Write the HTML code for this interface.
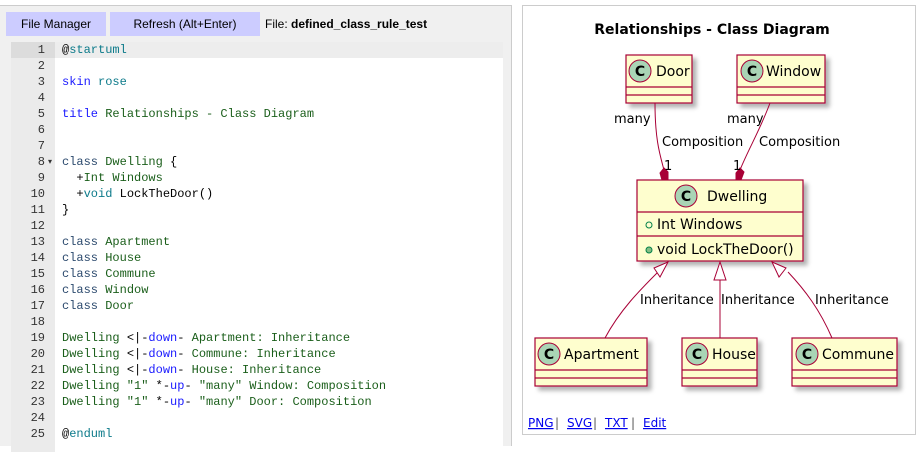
<!DOCTYPE html>
<html><head><meta charset="utf-8"><style>
body{margin:0;width:919px;height:445px;background:#fff;position:relative;overflow:hidden;font-family:"Liberation Sans",sans-serif}
#left{position:absolute;left:0;top:5px;width:511px;height:440px;background:#f0f0f0;border-top:1px solid #ccc;border-right:1px solid #ccc}
.btn{position:absolute;top:6px;height:24px;background:#ccccff;font-size:12px;line-height:24px;text-align:center;color:#000}
#file{position:absolute;left:265px;top:6px;line-height:24px;font-size:12px}
#ed{position:absolute;left:11px;top:36px;width:492px;height:410px;background:#fff}
#gut{position:absolute;left:0;top:0;width:44px;height:410px;background:#ebebeb}
.ln{position:absolute;left:0;width:34px;text-align:right;font:12px "Liberation Mono",monospace;color:#333}
.cd{position:absolute;left:51px;font:12px "Liberation Mono",monospace;white-space:pre;color:#1a5e1a}
.k{color:#1a1aff}.c{color:#2c4a6e}.t{color:#0c7a8a}.g{color:#1a5e1a}.p{color:#000}
#hl{position:absolute;left:44px;top:0;width:448px;height:16px;background:#ededed}
</style></head><body>
<div id="left">
<div class="btn" style="left:6px;width:100px">File Manager</div>
<div class="btn" style="left:110px;width:150px">Refresh (Alt+Enter)</div>
<div id="file">File: <b>defined_class_rule_test</b></div>
<div id="ed"><div id="gut"><div style="position:absolute;left:0;top:0;width:44px;height:16px;background:#dcdcdc"></div></div><div id="hl"></div>
<div class="ln" style="top:1px">1</div><div class="ln" style="top:17px">2</div><div class="ln" style="top:33px">3</div><div class="ln" style="top:49px">4</div><div class="ln" style="top:65px">5</div><div class="ln" style="top:81px">6</div><div class="ln" style="top:97px">7</div><div class="ln" style="top:113px">8<span style="font-size:8px;position:absolute;left:37px;top:2px">▾</span></div><div class="ln" style="top:129px">9</div><div class="ln" style="top:145px">10</div><div class="ln" style="top:161px">11</div><div class="ln" style="top:177px">12</div><div class="ln" style="top:193px">13</div><div class="ln" style="top:209px">14</div><div class="ln" style="top:225px">15</div><div class="ln" style="top:241px">16</div><div class="ln" style="top:257px">17</div><div class="ln" style="top:273px">18</div><div class="ln" style="top:289px">19</div><div class="ln" style="top:305px">20</div><div class="ln" style="top:321px">21</div><div class="ln" style="top:337px">22</div><div class="ln" style="top:353px">23</div><div class="ln" style="top:369px">24</div><div class="ln" style="top:385px">25</div>
<div class="cd" style="top:1px"><span class="p">@</span><span class="t">startuml</span></div>
<div class="cd" style="top:33px"><span class="k">skin</span> <span class="t">rose</span></div>
<div class="cd" style="top:65px"><span class="k">title</span> Relationships - Class Diagram</div>
<div class="cd" style="top:113px"><span class="c">class</span> Dwelling <span class="p">{</span></div>
<div class="cd" style="top:129px">  <span class="p">+</span>Int Windows</div>
<div class="cd" style="top:145px">  <span class="p">+</span><span class="t">void</span> <span class="p">LockTheDoor()</span></div>
<div class="cd" style="top:161px"><span class="p">}</span></div>
<div class="cd" style="top:193px"><span class="c">class</span> Apartment</div>
<div class="cd" style="top:209px"><span class="c">class</span> House</div>
<div class="cd" style="top:225px"><span class="c">class</span> Commune</div>
<div class="cd" style="top:241px"><span class="c">class</span> Window</div>
<div class="cd" style="top:257px"><span class="c">class</span> Door</div>
<div class="cd" style="top:289px">Dwelling <span class="p">&lt;|-</span><span class="k">down</span><span class="p">-</span> Apartment: Inheritance</div>
<div class="cd" style="top:305px">Dwelling <span class="p">&lt;|-</span><span class="k">down</span><span class="p">-</span> Commune: Inheritance</div>
<div class="cd" style="top:321px">Dwelling <span class="p">&lt;|-</span><span class="k">down</span><span class="p">-</span> House: Inheritance</div>
<div class="cd" style="top:337px">Dwelling "1" <span class="p">*-</span><span class="k">up</span><span class="p">-</span> "many" Window: Composition</div>
<div class="cd" style="top:353px">Dwelling "1" <span class="p">*-</span><span class="k">up</span><span class="p">-</span> "many" Door: Composition</div>
<div class="cd" style="top:385px"><span class="p">@</span><span class="t">enduml</span></div>
</div></div>
<svg width="919" height="445" style="position:absolute;left:0;top:0" font-family="'DejaVu Sans',sans-serif">
<defs><filter id="sh" x="-20%" y="-20%" width="150%" height="150%"><feDropShadow dx="4" dy="4" stdDeviation="2" flood-color="#000" flood-opacity="0.3"/></filter>
<g id="ci"><circle r="11" fill="#a9d4b5" stroke="#a80036"/><text y="5" text-anchor="middle" font-size="14" font-weight="bold" fill="#000">C</text></g></defs>
<rect x="522.5" y="5.5" width="393" height="170" fill="none"/>
<rect x="522.5" y="5.5" width="393" height="429" fill="#fff" stroke="#ccc"/>
<text x="712" y="34" text-anchor="middle" font-size="14" font-weight="bold">Relationships - Class Diagram</text>
<g stroke="#a80036" fill="#fefece" stroke-width="1.2">
<rect x="626" y="55" width="66" height="48" filter="url(#sh)"/><line x1="626" y1="87" x2="692" y2="87"/><line x1="626" y1="95" x2="692" y2="95"/>
<rect x="737" y="55" width="88" height="48" filter="url(#sh)"/><line x1="737" y1="87" x2="825" y2="87"/><line x1="737" y1="95" x2="825" y2="95"/>
<rect x="637" y="180" width="166" height="81" filter="url(#sh)"/><line x1="637" y1="212" x2="803" y2="212"/><line x1="637" y1="236" x2="803" y2="236"/>
<rect x="535" y="338" width="112" height="48" filter="url(#sh)"/><line x1="535" y1="370" x2="647" y2="370"/><line x1="535" y1="378" x2="647" y2="378"/>
<rect x="682" y="338" width="75" height="48" filter="url(#sh)"/><line x1="682" y1="370" x2="757" y2="370"/><line x1="682" y1="378" x2="757" y2="378"/>
<rect x="792" y="338" width="105" height="48" filter="url(#sh)"/><line x1="792" y1="370" x2="897" y2="370"/><line x1="792" y1="378" x2="897" y2="378"/>
</g>
<g fill="none" stroke="#a80036" stroke-width="1">
<path d="M655 103 C655 140 660 155 664 170"/><path d="M770 103 C760 130 748 150 740 170"/>
<path d="M664 168 L668 172 L668 180 L662 180 L660 173 Z" fill="#a80036"/>
<path d="M740 168 L744 172 L741 180 L736 180 L736 173 Z" fill="#a80036"/>
<path d="M605 338 C620 310 640 290 658 272"/><path d="M720 338 L720 280"/><path d="M832 338 C820 310 805 290 788 272"/>
<path d="M668 262 L654 268 L660 277 Z" fill="#fff"/><path d="M720 262 L714 280 L726 280 Z" fill="#fff"/><path d="M772 262 L786 268 L779 277 Z" fill="#fff"/>
</g>
<use href="#ci" x="640" y="71"/><use href="#ci" x="752" y="71"/><use href="#ci" x="686" y="196"/><use href="#ci" x="549" y="354"/><use href="#ci" x="697" y="354"/><use href="#ci" x="807" y="354"/>
<g font-size="14" fill="#000"><text x="656" y="76">Door</text><text x="766" y="76">Window</text><text x="707" y="201">Dwelling</text>
<text x="564" y="359">Apartment</text><text x="712" y="359">House</text><text x="822" y="359">Commune</text>
<text x="657" y="229">Int Windows</text><text x="657" y="254">void LockTheDoor()</text></g>
<circle cx="649" cy="225" r="3" fill="none" stroke="#038048"/><circle cx="649" cy="250" r="3" fill="#84be84" stroke="#038048"/>
<g font-size="13" fill="#000"><text x="614" y="123">many</text><text x="727" y="123">many</text>
<text x="662" y="146">Composition</text><text x="759" y="146">Composition</text><text x="664" y="170">1</text><text x="733" y="170">1</text>
<text x="640" y="304">Inheritance</text><text x="721" y="304">Inheritance</text><text x="815" y="304">Inheritance</text></g>
<g font-size="12" fill="#00e"><text x="528" y="427" text-decoration="underline">PNG</text><text x="567" y="427" text-decoration="underline">SVG</text><text x="605" y="427" text-decoration="underline">TXT</text><text x="643" y="427" text-decoration="underline">Edit</text></g>
<g font-size="12" fill="#555"><text x="555" y="427">|</text><text x="593" y="427">|</text><text x="631" y="427">|</text></g>
</svg>
</body></html>
